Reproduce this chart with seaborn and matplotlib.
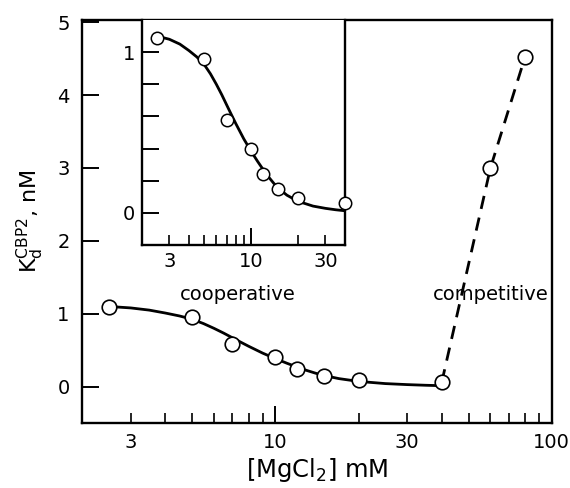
import numpy as np
import pandas as pd
import matplotlib
matplotlib.use("Agg")
import matplotlib.pyplot as plt
import seaborn as sns
from matplotlib.ticker import FixedLocator, FuncFormatter

# ---- data ----
mgcl2_mM = [2.5, 5, 7, 10, 12, 15, 20, 40]
kd_nM = [1.09, 0.96, 0.58, 0.40, 0.24, 0.15, 0.09, 0.06]
comp_mM = [40, 60, 80]
comp_kd = [0.06, 3.0, 4.52]
fit_mM = [2.5, 3, 3.5, 4, 4.5, 5, 5.5, 6, 6.5, 7, 7.5, 8, 9, 10, 11, 12, 13, 14, 15,
          17, 20, 25, 30, 35, 40]
fit_kd = [1.100, 1.080, 1.050, 1.010, 0.970, 0.925, 0.865, 0.800, 0.735, 0.670, 0.610,
          0.555, 0.460, 0.385, 0.322, 0.268, 0.222, 0.184, 0.153, 0.110, 0.072, 0.042,
          0.028, 0.019, 0.013]
main_yticks = [0, 1, 2, 3, 4, 5]
main_xlabels = [3, 10, 30, 100]
inset_yticks = [0, 0.2, 0.4, 0.6, 0.8, 1.0]
inset_ylabels = [0, 1]
inset_xlabels = [3, 10, 30]

pts = pd.DataFrame({"mM": mgcl2_mM, "kd": kd_nM})
fit = pd.DataFrame({"mM": fit_mM, "kd": fit_kd})
comp = pd.DataFrame({"mM": comp_mM, "kd": comp_kd})

sns.set_style("ticks")
plt.rcParams["font.family"] = ["DejaVu Sans"]
plt.rcParams["mathtext.fontset"] = "dejavusans"
for k in ["text.color", "axes.labelcolor", "xtick.color", "ytick.color", "axes.edgecolor"]:
    plt.rcParams[k] = "black"

fig = plt.figure(figsize=(5.7, 4.88), dpi=100)
ax = fig.add_axes([0.144, 0.133, 0.824, 0.826])
axin = fig.add_axes([0.249, 0.498, 0.356, 0.461])

minor_subs = [2, 3, 4, 5, 6, 7, 8, 9, 20, 30, 40, 50, 60, 70, 80, 90]


def style_axis(a, xlabels, ticklen_major, ticklen_minor, fs, pad_x, pad_y):
    a.set_xscale("log")
    a.xaxis.set_major_locator(FixedLocator([1, 10, 100]))
    a.xaxis.set_minor_locator(FixedLocator(minor_subs))
    fmt = FuncFormatter(lambda v, p: f"{v:g}" if any(abs(v - l) < 1e-6 for l in xlabels) else "")
    a.xaxis.set_major_formatter(fmt)
    a.xaxis.set_minor_formatter(fmt)
    a.tick_params(axis="x", which="major", direction="in", length=ticklen_major, width=1.4,
                  labelsize=fs, pad=pad_x, top=False)
    a.tick_params(axis="x", which="minor", direction="in", length=ticklen_minor, width=1.2,
                  labelsize=fs, pad=pad_x, top=False)
    a.tick_params(axis="y", which="both", direction="in", length=12, width=1.4,
                  labelsize=fs, pad=pad_y, right=False)
    for s in a.spines.values():
        s.set_linewidth(1.7)
        s.set_color("black")


# ---- main axes ----
sns.lineplot(data=fit, x="mM", y="kd", ax=ax, color="black", linewidth=2.0, zorder=3)
sns.lineplot(data=comp, x="mM", y="kd", ax=ax, color="black", linewidth=2.0,
             linestyle=(0, (4.8, 3.2)), zorder=3)
sns.scatterplot(data=pts, x="mM", y="kd", ax=ax, s=110, facecolor="white",
                edgecolor="black", linewidth=1.2, zorder=5, clip_on=False)
sns.scatterplot(data=comp.iloc[1:], x="mM", y="kd", ax=ax, s=110, facecolor="white",
                edgecolor="black", linewidth=1.2, zorder=5, clip_on=False)
style_axis(ax, main_xlabels, 12, 7, 14, 7, 9)
ax.set_xlim(2, 100)
ax.set_ylim(-0.5, 5.03)
ax.set_yticks(main_yticks)
ax.set_xlabel(r"[MgCl$_2$] mM", fontsize=17.5, labelpad=3)
ax.set_ylabel(r"$\mathregular{K_d^{CBP2}}$, nM", fontsize=16, labelpad=8)
ax.text(7.3, 1.26, "cooperative", fontsize=14, ha="center", va="center")
ax.text(60, 1.26, "competitive", fontsize=14, ha="center", va="center")

# ---- inset ----
axin.set_facecolor("white")
sns.lineplot(data=fit, x="mM", y="kd", ax=axin, color="black", linewidth=2.0, zorder=3)
sns.scatterplot(data=pts, x="mM", y="kd", ax=axin, s=80, facecolor="white",
                edgecolor="black", linewidth=1.1, zorder=5, clip_on=False)
style_axis(axin, inset_xlabels, 12, 7, 14, 5, 5)
axin.set_xlim(2, 40)
axin.set_ylim(-0.2, 1.2)
axin.yaxis.set_major_locator(FixedLocator(inset_yticks))
axin.yaxis.set_major_formatter(FuncFormatter(
    lambda v, p: f"{v:g}" if any(abs(v - l) < 1e-6 for l in inset_ylabels) else ""))
axin.spines["top"].set_visible(False)
axin.set_xlabel("")
axin.set_ylabel("")

fig.savefig("out.png", dpi=100)
